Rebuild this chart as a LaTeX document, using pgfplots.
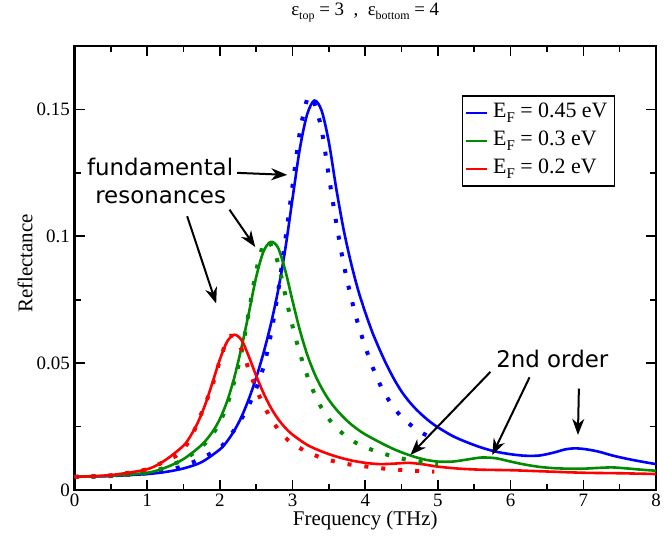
\documentclass[border=0pt]{standalone}
\usepackage{fontspec}
\setmainfont{Liberation Serif}
\newfontfamily\annfont{DejaVu Sans}
\usepackage{pgfplots}
\pgfplotsset{compat=1.18}
\usetikzlibrary{arrows.meta}
\definecolor{cblue}{RGB}{0,0,255}
\definecolor{cgreen}{RGB}{0,139,0}
\definecolor{cred}{RGB}{255,0,0}
\newcommand{\lsub}[1]{\raisebox{-0.5ex}{\fontsize{15}{15}\selectfont #1}}
\newcommand{\tsub}[1]{\raisebox{-0.5ex}{\fontsize{12}{12}\selectfont #1}}
\tikzset{annarrow/.style={line width=2bp, -{Stealth[length=16bp, width=12bp, inset=5bp]}}}
\begin{document}
\begin{tikzpicture}
\useasboundingbox (-74.5bp,-51bp) rectangle (597.5bp,490bp);
\begin{axis}[at={(0,0)}, anchor=south west, scale only axis,
  width=581.5bp, height=444bp,
  xmin=0, xmax=8, ymin=0, ymax=0.175,
  clip=false,
  axis line style={line width=2bp},
  tick style={line width=1.6bp, black},
  major tick length=10bp, minor tick length=6bp,
  tick align=inside,
  xtick pos=both, ytick pos=both,
  xticklabel pos=left, yticklabel pos=left,
  xtick={0,1,2,3,4,5,6,7,8}, minor x tick num=1,
  ytick={0,0.05,0.1,0.15}, yticklabels={0,0.05,0.1,0.15}, minor y tick num=1,
  scaled y ticks=false,
  /pgf/number format/assume math mode=true,
  tick label style={font=\fontsize{19}{22}\selectfont},
  xticklabel style={anchor=base, yshift=-16bp, inner sep=0pt},
  yticklabel style={anchor=east, xshift=-4.5bp, inner sep=0pt},
  xlabel={Frequency (THz)},
  ylabel={Reflectance},
  label style={font=\fontsize{21}{24}\selectfont},
  xlabel style={at={(axis description cs:0.5,0)}, anchor=base, yshift=-35bp},
  ylabel style={at={(axis description cs:-0.0851,0.51)}, anchor=center},
  title={ε\tsub{top} = 3~~,~~ε\tsub{bottom} = 4},
  title style={at={(axis description cs:0.5,1)}, anchor=base, yshift=25bp, font=\fontsize{19}{22}\selectfont},
  legend style={at={(0.666,0.889)}, anchor=north west, draw=black, line width=1.5bp,
     font=\fontsize{22}{26}\selectfont, inner xsep=2bp, inner ysep=3bp, row sep=0bp, column sep=0bp,
     nodes={text height=15bp, text depth=6bp, inner ysep=3.5bp, inner xsep=5bp}},
  legend cell align=left,
  legend image code/.code={\draw[#1] (0bp,0bp) -- (21bp,0bp);},
]
% solid curves
\addplot[cblue, line width=2.6bp, smooth] coordinates {
(0,0.0052) (0.5,0.0055) (1.0,0.0063) (1.25,0.0071) (1.5,0.0085) (1.75,0.0110)
(2.0,0.0160) (2.1,0.0192) (2.2,0.0235) (2.3,0.0290) (2.4,0.0360) (2.5,0.0443)
(2.6,0.0540) (2.7,0.0652) (2.8,0.0785) (2.9,0.0950) (3.0,0.1150) (3.1,0.1345)
(3.2,0.1480) (3.3,0.1535) (3.4,0.1495) (3.5,0.1370) (3.6,0.1190) (3.7,0.1030)
(3.8,0.0900) (3.9,0.0790) (4.0,0.0700) (4.1,0.0620) (4.2,0.0552) (4.3,0.0490)
(4.4,0.0435) (4.5,0.0388) (4.6,0.0350) (4.7,0.0318) (4.8,0.0291) (4.9,0.0267)
(5.0,0.0247) (5.2,0.0213) (5.4,0.0188) (5.6,0.0167) (5.8,0.0151) (6.0,0.0141)
(6.2,0.0135) (6.4,0.0136) (6.6,0.0148) (6.75,0.0160) (6.87,0.0164) (7.0,0.0162)
(7.2,0.0152) (7.4,0.0136) (7.6,0.0123) (7.8,0.0112) (8.0,0.0102)};
\addlegendentry{\fontsize{22}{26}\selectfont E\lsub{F} = 0.45 eV}
\addplot[cgreen, line width=2.6bp, smooth] coordinates {
(0,0.0052) (0.5,0.0056) (1.0,0.0068) (1.25,0.0088) (1.5,0.0122) (1.75,0.0178)
(1.9,0.0230) (2.0,0.0280) (2.1,0.0350) (2.2,0.0445) (2.3,0.0565) (2.4,0.0700)
(2.5,0.0840) (2.6,0.0940) (2.7,0.0978) (2.8,0.0955) (2.9,0.0865) (3.0,0.0745)
(3.1,0.0630) (3.2,0.0535) (3.3,0.0460) (3.4,0.0402) (3.5,0.0355) (3.6,0.0318)
(3.7,0.0287) (3.8,0.0260) (3.9,0.0238) (4.0,0.0219) (4.2,0.0188) (4.4,0.0160)
(4.6,0.0138) (4.8,0.0121) (5.0,0.0112) (5.2,0.0112) (5.4,0.0120) (5.6,0.0128)
(5.8,0.0125) (6.0,0.0112) (6.2,0.0100) (6.4,0.0091) (6.6,0.0086) (6.8,0.0084)
(7.0,0.0084) (7.2,0.0087) (7.4,0.0089) (7.6,0.0085) (7.8,0.0080) (8.0,0.0076)};
\addlegendentry{\fontsize{22}{26}\selectfont E\lsub{F} = 0.3 eV}
\addplot[cred, line width=2.6bp, smooth] coordinates {
(0,0.0052) (0.5,0.0059) (1.0,0.0082) (1.25,0.0118) (1.5,0.0175) (1.6,0.0215)
(1.7,0.0268) (1.8,0.0338) (1.9,0.0425) (2.0,0.0515) (2.1,0.0585) (2.2,0.0612)
(2.3,0.0590) (2.4,0.0525) (2.5,0.0450) (2.6,0.0382) (2.7,0.0325) (2.8,0.0280)
(2.9,0.0245) (3.0,0.0218) (3.2,0.0178) (3.4,0.0152) (3.6,0.0132) (3.8,0.0117)
(4.0,0.0107) (4.2,0.0102) (4.4,0.0104) (4.6,0.0107) (4.8,0.0101) (5.0,0.0092)
(5.3,0.0084) (5.6,0.0080) (6.0,0.0078) (6.4,0.0074) (7.0,0.0068) (7.5,0.0066)
(8.0,0.0063)};
\addlegendentry{\fontsize{22}{26}\selectfont E\lsub{F} = 0.2 eV}
% dotted curves
\addplot[cblue, line width=4bp, dash pattern=on 4bp off 13bp, smooth, forget plot] coordinates {
(0,0.0052) (0.5,0.0055) (1.0,0.0066) (1.25,0.0075) (1.5,0.0095) (1.75,0.0125)
(2.0,0.0166) (2.1,0.0200) (2.2,0.0237) (2.3,0.0282) (2.4,0.0335) (2.5,0.0400)
(2.6,0.0485) (2.7,0.0610) (2.8,0.0780) (2.9,0.0985) (3.0,0.1200) (3.1,0.1410)
(3.2,0.1540) (3.25,0.1550) (3.3,0.1525) (3.4,0.1420) (3.5,0.1235) (3.6,0.1055)
(3.7,0.0895) (3.8,0.0765) (3.9,0.0655) (4.0,0.0565) (4.1,0.0485) (4.2,0.0418)
(4.3,0.0365) (4.4,0.0322) (4.5,0.0288) (4.6,0.0262) (4.7,0.0240) (4.8,0.0222)
(4.9,0.0208) (5.0,0.0196)};
\addplot[cgreen, line width=4bp, dash pattern=on 4bp off 13bp, smooth, forget plot] coordinates {
(0,0.0052) (0.5,0.0056) (1.0,0.0068) (1.25,0.0090) (1.5,0.0120) (1.75,0.0170)
(1.9,0.0220) (2.0,0.0268) (2.1,0.0335) (2.2,0.0430) (2.3,0.0545) (2.4,0.0705)
(2.5,0.0865) (2.6,0.0970) (2.65,0.0981) (2.7,0.0968) (2.8,0.0895) (2.9,0.0768)
(3.0,0.0645) (3.1,0.0540) (3.2,0.0452) (3.3,0.0380) (3.4,0.0323) (3.5,0.0280)
(3.6,0.0246) (3.7,0.0220) (3.8,0.0199) (3.9,0.0181) (4.0,0.0168) (4.2,0.0148)
(4.4,0.0131) (4.6,0.0118) (4.8,0.0108) (5.0,0.0102)};
\addplot[cred, line width=4bp, dash pattern=on 4bp off 13bp, smooth, forget plot] coordinates {
(0,0.0052) (0.5,0.0058) (1.0,0.0082) (1.25,0.0115) (1.4,0.0135) (1.5,0.0162)
(1.6,0.0205) (1.7,0.0270) (1.8,0.0340) (1.9,0.0415) (2.0,0.0510) (2.1,0.0595)
(2.15,0.0608) (2.2,0.0600) (2.3,0.0553) (2.4,0.0473) (2.5,0.0398) (2.6,0.0335)
(2.7,0.0283) (2.8,0.0240) (2.9,0.0207) (3.0,0.0182) (3.2,0.0150) (3.4,0.0127)
(3.6,0.0111) (3.8,0.0100) (4.0,0.0093) (4.2,0.0086) (4.4,0.0081) (4.6,0.0077)
(4.8,0.0074) (4.95,0.0072)};
% annotations
\node[font=\annfont\fontsize{23}{27}\selectfont, anchor=base] at (axis cs:1.178,0.1240) {fundamental};
\node[font=\annfont\fontsize{23}{27}\selectfont, anchor=base] at (axis cs:1.185,0.1130) {resonances};
\node[font=\annfont\fontsize{23}{27}\selectfont, anchor=base] at (axis cs:6.573,0.0483) {2nd order};
\draw[annarrow] (axis cs:2.238,0.1250) -- (axis cs:2.927,0.1242);
\draw[annarrow] (axis cs:2.132,0.1105) -- (axis cs:2.486,0.0958);
\draw[annarrow] (axis cs:1.550,0.1079) -- (axis cs:1.949,0.0735);
\draw[annarrow] (axis cs:5.723,0.0466) -- (axis cs:4.621,0.0138);
\draw[annarrow] (axis cs:6.260,0.0444) -- (axis cs:5.747,0.0138);
\draw[annarrow] (axis cs:6.939,0.0400) -- (axis cs:6.926,0.0217);
\end{axis}
\end{tikzpicture}
\end{document}
